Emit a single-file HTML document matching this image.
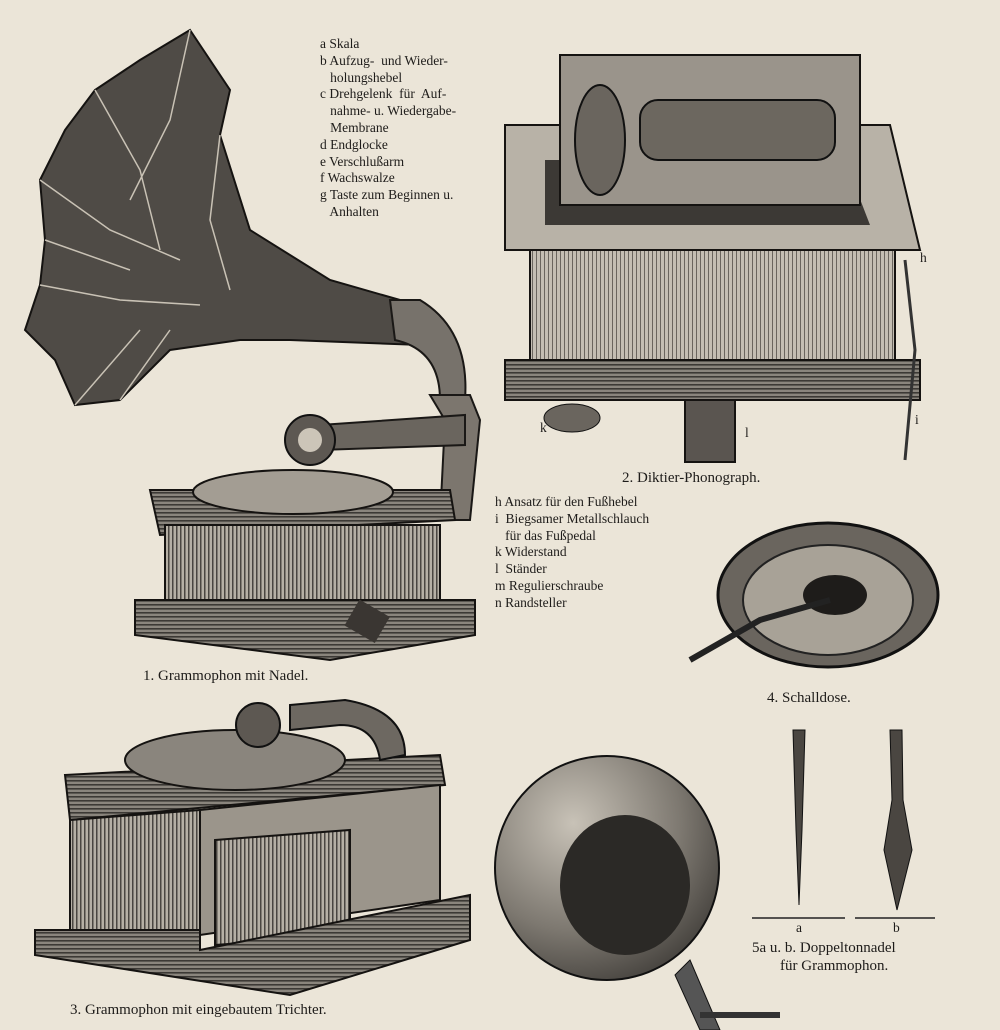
<!DOCTYPE html>
<html><head><meta charset="utf-8"><style>
body{margin:0;background:#ebe5d8;}
#c{position:relative;width:1000px;height:1030px;overflow:hidden;background:#ebe5d8;font-family:"Liberation Serif",serif;color:#1e1c1a;}
.t{position:absolute;font-size:13.5px;line-height:16.8px;white-space:pre;}
.cap{position:absolute;font-size:15px;white-space:nowrap;}
svg{position:absolute;left:0;top:0;}
</style></head><body><div id="c">
<svg width="1000" height="1030" viewBox="0 0 1000 1030">
<defs>
<pattern id="h" width="4" height="4" patternUnits="userSpaceOnUse"><rect width="4" height="4" fill="#8a857d"/><rect width="4" height="1.6" fill="#3c3935"/></pattern>
<pattern id="v" width="4" height="4" patternUnits="userSpaceOnUse"><rect width="4" height="4" fill="#b6b0a5"/><rect width="1.5" height="4" fill="#4a4641"/></pattern>
<pattern id="v2" width="4" height="4" patternUnits="userSpaceOnUse"><rect width="4" height="4" fill="#c4beb3"/><rect width="1" height="4" fill="#6a655e"/></pattern>
<radialGradient id="hg" cx="0.35" cy="0.3" r="0.8"><stop offset="0" stop-color="#c8c2b7"/><stop offset="0.6" stop-color="#7d7870"/><stop offset="1" stop-color="#3e3b37"/></radialGradient>
</defs>
<!-- horn 1 -->
<path d="M190,30 L230,90 L220,135 L250,230 L330,280 L400,300 L420,345 L290,340 L240,340 L170,350 L120,400 L75,405 L55,360 L25,330 L40,285 L45,240 L40,180 L65,130 L95,90 L140,60 Z" fill="#4f4b46" stroke="#151311" stroke-width="2"/>
<path d="M190,30 L170,120 L130,200 M95,90 L140,170 L160,250 M40,180 L110,230 L180,260 M45,240 L130,270 M40,285 L120,300 L200,305 M75,405 L140,330 M120,400 L170,330 M220,135 L210,220 L230,290" stroke="#c9c2b5" stroke-width="1.5" fill="none"/>
<path d="M390,300 L420,300 Q470,330 465,400 L440,400 Q440,350 395,340 Z" fill="#77726b" stroke="#1a1816" stroke-width="2"/>
<path d="M430,395 L470,395 L480,420 L470,520 L440,520 L445,420 Z" fill="#7c766e" stroke="#1a1816" stroke-width="2"/>
<path d="M320,425 L465,415 L465,445 L320,450 Z" fill="#6a655e" stroke="#1a1816" stroke-width="2"/>
<circle cx="310" cy="440" r="25" fill="#5d5852" stroke="#111" stroke-width="2"/>
<circle cx="310" cy="440" r="12" fill="#ccc5b8"/>
<!-- gramophone 1 -->
<path d="M150,490 L450,490 L455,520 L160,535 Z" fill="url(#h)" stroke="#151311" stroke-width="2"/>
<ellipse cx="293" cy="492" rx="100" ry="22" fill="#a39d93" stroke="#151311" stroke-width="2"/>
<rect x="165" y="525" width="275" height="95" fill="url(#v)" stroke="#151311" stroke-width="2"/>
<path d="M135,600 L475,600 L475,635 L330,660 L135,635 Z" fill="url(#h)" stroke="#151311" stroke-width="2"/>
<rect x="350" y="605" width="35" height="30" fill="#3a3632" transform="rotate(30 365 620)"/>
<!-- phonograph 2 -->
<path d="M505,125 L890,125 L920,250 L505,250 Z" fill="#b8b2a7" stroke="#151311" stroke-width="2"/>
<path d="M545,160 L845,160 L870,225 L545,225 Z" fill="#3c3935"/>
<rect x="560" y="55" width="300" height="150" fill="#9a948b" stroke="#151311" stroke-width="2"/>
<rect x="640" y="100" width="195" height="60" rx="18" fill="#6c675f" stroke="#111" stroke-width="2"/>
<ellipse cx="600" cy="140" rx="25" ry="55" fill="#6a655e" stroke="#111" stroke-width="2"/>
<rect x="530" y="250" width="365" height="120" fill="url(#v2)" stroke="#151311" stroke-width="2"/>
<path d="M505,360 L920,360 L920,400 L505,400 Z" fill="url(#h)" stroke="#151311" stroke-width="2"/>
<rect x="685" y="400" width="50" height="62" fill="#5a5550" stroke="#151311" stroke-width="2"/>
<ellipse cx="572" cy="418" rx="28" ry="14" fill="#6a655e" stroke="#111"/>
<path d="M905,260 L915,350 L905,460" stroke="#333" stroke-width="3" fill="none"/>
<!-- schalldose 4 -->
<ellipse cx="828" cy="595" rx="110" ry="72" fill="#6a655e" stroke="#111" stroke-width="3"/>
<ellipse cx="828" cy="600" rx="85" ry="55" fill="#a8a297" stroke="#222" stroke-width="2"/>
<ellipse cx="835" cy="595" rx="32" ry="20" fill="#1e1c1a"/>
<path d="M690,660 L760,620 L830,600" stroke="#222" stroke-width="6" fill="none"/>
<!-- needles -->
<path d="M793,730 L805,730 L802,830 L799,905 L796,830 Z" fill="#4a4641" stroke="#111"/>
<path d="M890,730 L902,730 L903,800 L912,850 L897,910 L884,850 L892,800 Z" fill="#4a4641" stroke="#111"/>
<path d="M752,918 L845,918 M855,918 L935,918" stroke="#222" stroke-width="1.5"/>
<!-- gramophone 3 -->
<path d="M65,775 L440,755 L445,785 L70,820 Z" fill="url(#h)" stroke="#151311" stroke-width="2"/>
<ellipse cx="235" cy="760" rx="110" ry="30" fill="#8a857d" stroke="#151311" stroke-width="2"/>
<path d="M290,705 L345,700 Q405,710 405,755 L380,760 Q375,725 340,725 L290,730 Z" fill="#6d6861" stroke="#111" stroke-width="2"/>
<circle cx="258" cy="725" r="22" fill="#5d5852" stroke="#111" stroke-width="2"/>
<path d="M70,820 L200,810 L200,930 L70,935 Z" fill="url(#v)" stroke="#151311" stroke-width="2"/>
<path d="M200,810 L440,785 L440,900 L200,935 Z" fill="#9b958b" stroke="#151311" stroke-width="2"/>
<path d="M215,840 L350,830 L350,935 L215,945 Z" fill="url(#v)" stroke="#151311" stroke-width="2"/>
<path d="M35,930 L200,930 L200,950 L470,895 L470,940 L290,995 L35,955 Z" fill="url(#h)" stroke="#151311" stroke-width="2"/>
<!-- horn bottom -->
<ellipse cx="607" cy="868" rx="112" ry="112" fill="url(#hg)" stroke="#111" stroke-width="2"/>
<ellipse cx="625" cy="885" rx="65" ry="70" fill="#2b2926"/>
<path d="M690,960 L720,1030 L700,1030 L675,975 Z" fill="#555" stroke="#111"/>
<path d="M700,1015 L780,1015" stroke="#333" stroke-width="6"/>
</svg>
<div class="t" style="left:320px;top:36px">a Skala
b Aufzug-  und Wieder-
   holungshebel
c Drehgelenk  für  Auf-
   nahme- u. Wiedergabe-
   Membrane
d Endglocke
e Verschlußarm
f Wachswalze
g Taste zum Beginnen u.
   Anhalten</div>
<div class="t" style="left:495px;top:494px">h Ansatz für den Fußhebel
i  Biegsamer Metallschlauch
   für das Fußpedal
k Widerstand
l  Ständer
m Regulierschraube
n Randsteller</div>
<div class="cap" style="left:143px;top:668px">1. Grammophon mit Nadel.</div>
<div class="cap" style="left:622px;top:470px">2. Diktier-Phonograph.</div>
<div class="cap" style="left:767px;top:690px">4. Schalldose.</div>
<div class="cap" style="left:70px;top:1002px">3. Grammophon mit eingebautem Trichter.</div>
<div class="cap" style="left:752px;top:940px">5a u. b. Doppeltonnadel</div>
<div class="cap" style="left:780px;top:958px">für Grammophon.</div>
<div class="t" style="left:796px;top:920px">a</div>
<div class="t" style="left:893px;top:920px">b</div>
<div class="t" style="left:920px;top:250px">h</div>
<div class="t" style="left:915px;top:412px">i</div>
<div class="t" style="left:540px;top:420px">k</div>
<div class="t" style="left:745px;top:425px">l</div>
</div></body></html>
